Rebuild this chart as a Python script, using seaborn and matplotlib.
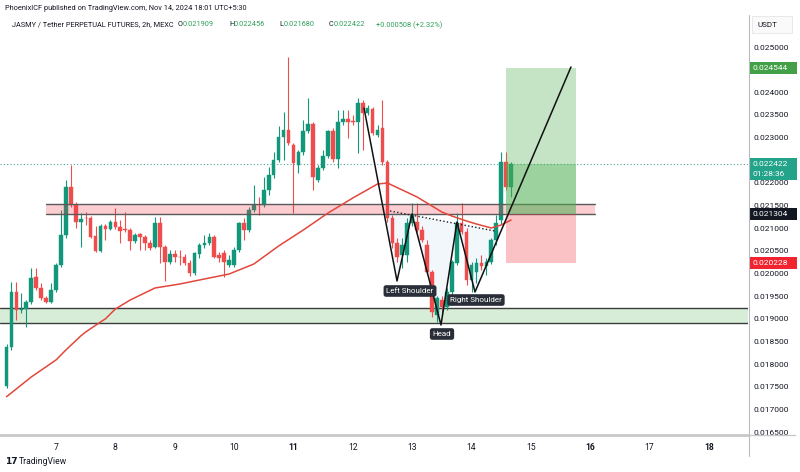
import numpy as np
import pandas as pd
import matplotlib
matplotlib.use("Agg")
import matplotlib.pyplot as plt
import matplotlib.transforms as mtransforms
from matplotlib.patches import Rectangle, Polygon
from matplotlib.lines import Line2D
import seaborn as sns

# ---------------- data ----------------
start_day = 6 + 4 / 24      # first 2h candle: day 6, 04:00
step = 2 / 24               # 2h bars

opens = [
    0.017517, 0.018378, 0.019592, 0.019195, 0.019217, 0.019371, 0.019923, 0.019680, 0.019459, 0.019371,
    0.019636, 0.020188, 0.020850, 0.021910, 0.021513, 0.021137, 0.021226, 0.021226, 0.020828, 0.020497,
    0.021049, 0.020983, 0.021137, 0.021027, 0.020983, 0.020961, 0.020718, 0.020872, 0.020806, 0.020673,
    0.020585, 0.021115, 0.020585, 0.020254, 0.020430, 0.020364, 0.020364, 0.020232, 0.020011, 0.020430,
    0.020629, 0.020673, 0.020806, 0.020408, 0.020452, 0.020188, 0.020188, 0.020519, 0.021115, 0.020961,
    0.021402, 0.021513, 0.021513, 0.021844, 0.022175, 0.022506, 0.023014, 0.023168, 0.022837, 0.022396,
    0.022683, 0.023146, 0.023301, 0.022064, 0.022330, 0.022594, 0.023146, 0.022528, 0.023345, 0.023411,
    0.023345, 0.023345, 0.023764, 0.023544, 0.023632, 0.023058, 0.023212, 0.022462, 0.021226, 0.020673,
    0.020408, 0.020408, 0.021115, 0.021137, 0.020961, 0.020629, 0.020033, 0.019084, 0.019415, 0.019261,
    0.019592, 0.020232, 0.021115, 0.020916, 0.019857, 0.020033, 0.020232, 0.020166, 0.020254, 0.020740,
    0.021182, 0.022462, 0.021909]
highs = [
    0.018444, 0.019813, 0.019813, 0.019570, 0.019415, 0.020122, 0.020122, 0.019790, 0.019503, 0.019790,
    0.020232, 0.021402, 0.022064, 0.022396, 0.021579, 0.021336, 0.021358, 0.021270, 0.021049, 0.021093,
    0.021093, 0.021182, 0.021446, 0.021182, 0.021358, 0.021005, 0.020894, 0.020894, 0.020850, 0.020740,
    0.021248, 0.021248, 0.020629, 0.020519, 0.020519, 0.020519, 0.020430, 0.020298, 0.020475, 0.020673,
    0.020850, 0.020894, 0.020850, 0.020475, 0.020519, 0.020408, 0.020585, 0.021137, 0.021226, 0.021468,
    0.021954, 0.021689, 0.022131, 0.022352, 0.022683, 0.023257, 0.023566, 0.024780, 0.022881, 0.022727,
    0.023389, 0.023875, 0.023345, 0.022396, 0.022727, 0.023168, 0.023212, 0.023610, 0.023610, 0.023610,
    0.023500, 0.023875, 0.023830, 0.023720, 0.023676, 0.023279, 0.023830, 0.022506, 0.021292, 0.020784,
    0.020784, 0.021226, 0.021557, 0.021557, 0.021049, 0.020740, 0.020078, 0.019503, 0.019503, 0.019680,
    0.020298, 0.021336, 0.021557, 0.021005, 0.020254, 0.020342, 0.020408, 0.020342, 0.020784, 0.021292,
    0.022683, 0.022683, 0.022456]
lows = [
    0.017472, 0.018312, 0.018974, 0.019128, 0.018820, 0.019327, 0.019636, 0.019415, 0.019349, 0.019349,
    0.019592, 0.020144, 0.020784, 0.021468, 0.021005, 0.020585, 0.021071, 0.020784, 0.020475, 0.020475,
    0.020740, 0.020961, 0.020983, 0.020673, 0.020916, 0.020519, 0.020673, 0.020519, 0.020519, 0.020519,
    0.020563, 0.020232, 0.019835, 0.020210, 0.020254, 0.020188, 0.020188, 0.019945, 0.019967, 0.020342,
    0.020563, 0.020629, 0.020342, 0.020254, 0.019923, 0.020144, 0.020144, 0.020475, 0.020740, 0.020916,
    0.021358, 0.021292, 0.021468, 0.021733, 0.022109, 0.022462, 0.022506, 0.022837, 0.021336, 0.022219,
    0.022616, 0.023102, 0.021844, 0.022020, 0.022285, 0.022550, 0.022462, 0.022330, 0.023279, 0.022992,
    0.023279, 0.022661, 0.022727, 0.023500, 0.023058, 0.023014, 0.022396, 0.021137, 0.020563, 0.020254,
    0.020122, 0.020254, 0.021049, 0.020916, 0.020695, 0.019989, 0.019040, 0.018930, 0.019084, 0.019195,
    0.019547, 0.020188, 0.020872, 0.019746, 0.019592, 0.019790, 0.020078, 0.019967, 0.020210, 0.020629,
    0.021093, 0.021844, 0.021680]
closes = [
    0.018378, 0.019592, 0.019195, 0.019217, 0.019371, 0.019901, 0.019680, 0.019459, 0.019371, 0.019636,
    0.020188, 0.020850, 0.021910, 0.021513, 0.021137, 0.021204, 0.021215, 0.020806, 0.020497, 0.021049,
    0.020983, 0.021137, 0.021027, 0.020938, 0.020961, 0.020718, 0.020850, 0.020806, 0.020673, 0.020563,
    0.021115, 0.020585, 0.020254, 0.020430, 0.020364, 0.020355, 0.020232, 0.020011, 0.020452, 0.020629,
    0.020673, 0.020806, 0.020364, 0.020342, 0.020254, 0.020298, 0.020519, 0.021115, 0.020961, 0.021402,
    0.021513, 0.021505, 0.021844, 0.022175, 0.022506, 0.023014, 0.023168, 0.022881, 0.022440, 0.022683,
    0.023146, 0.023301, 0.022131, 0.022330, 0.022594, 0.023146, 0.022528, 0.023345, 0.023411, 0.023345,
    0.023340, 0.023764, 0.023544, 0.023654, 0.023102, 0.023168, 0.022462, 0.021226, 0.020673, 0.020364,
    0.020629, 0.021115, 0.021292, 0.020961, 0.020740, 0.020033, 0.019151, 0.019459, 0.019261, 0.019592,
    0.020254, 0.021115, 0.020916, 0.019857, 0.020188, 0.020232, 0.020166, 0.020254, 0.020740, 0.021115,
    0.022462, 0.021910, 0.022422]

# moving average (red line), sampled at candle indices
ma_idx = [0, 5, 10, 12, 15, 16, 19, 20, 22, 25, 30, 35, 40, 45, 50, 55, 60, 65, 70, 75, 77, 80, 83, 85, 88, 90, 93, 95, 98, 100, 102]
ma_vals = [0.017280, 0.017716, 0.018091, 0.018312, 0.018621, 0.018709, 0.018930, 0.019000, 0.019217, 0.019415,
           0.019680, 0.019768, 0.019879, 0.019989, 0.020210, 0.020607, 0.020961, 0.021336, 0.021667, 0.021976,
           0.021998, 0.021844, 0.021689, 0.021557, 0.021358, 0.021270, 0.021159, 0.021093, 0.021005, 0.021071,
           0.021182]

# zones
resist_top, resist_bot = 0.021535, 0.021304
resist_t0, resist_t1 = 6.826, 16.080
support_top, support_bot = 0.019239, 0.018908

# long position tool
pos_t0, pos_t1 = 14.581, 15.755
target_p, entry_p, stop_p = 0.024544, 0.021304, 0.020228
last_close = 0.022422

# inverse head & shoulders drawing
hs_t = [12.189, 12.745, 12.997, 13.486, 13.755, 14.059, 15.676]
hs_p = [0.023654, 0.019835, 0.021314, 0.018864, 0.021137, 0.019592, 0.024560]
neck_t = [12.627, 14.396]
neck_p = [0.021380, 0.020938]
fill_t = [12.534, 12.745, 12.997, 13.486, 13.755, 14.059, 14.490]
fill_p = [0.021402, 0.019835, 0.021314, 0.018864, 0.021137, 0.019592, 0.020935]
labels = ["Left Shoulder", "Head", "Right Shoulder"]
label_t = [12.964, 13.503, 14.075]
label_p = [0.019614, 0.018665, 0.019415]

day_ticks = [7, 8, 9, 10, 11, 12, 13, 14, 15, 16, 17, 18]
bold_days = [11, 16, 18]
price_ticks = [0.0165 + 0.0005 * k for k in range(18)]
hidden_ticks = [0.0245, 0.0225]   # covered by the price boxes in the reference

# ---------------- drawing ----------------
sns.set_theme(style="white")
plt.rcParams["font.family"] = ["Roboto", "DejaVu Sans"]

UP = "#12977a"
DOWN = "#ef4d4d"
TXT = "#131722"

fig = plt.figure(figsize=(8, 4.72), dpi=100)
fig.patch.set_facecolor("white")
ax = fig.add_axes([0, 37 / 472, 748 / 800, 395 / 472])
ax.set_facecolor("white")

n = len(opens)
t = np.array([start_day + step * i for i in range(n)])
o = np.array(opens); h = np.array(highs); l = np.array(lows); c = np.array(closes)
df = pd.DataFrame({"t": t, "open": o, "high": h, "low": l, "close": c})
df["color"] = np.where(df["close"] >= df["open"], UP, DOWN)

xlim = (6.0566, 18.658)
ax.set_xlim(*xlim)
ax.set_ylim(0.016435, 0.025155)

# zones behind candles
ax.add_patch(Rectangle((xlim[0], support_bot), xlim[1] - xlim[0], support_top - support_bot,
                       facecolor="#4caf50", alpha=0.22, edgecolor="none", zorder=1))
for yy in (support_top, support_bot):
    ax.plot(xlim, [yy, yy], color="#3d3d3d", lw=1.0, zorder=1.5)

ax.add_patch(Polygon(np.column_stack([fill_t, fill_p]), closed=True,
                     facecolor="#e3eefa", alpha=0.45, edgecolor="none", zorder=1))

# current price dotted line
ax.plot(xlim, [last_close, last_close], color="#4fa59c", lw=0.8,
        linestyle=(0, (1, 2)), zorder=1.2)

# candles
ax.vlines(df["t"], df["low"], df["high"], colors=df["color"], lw=0.8, zorder=3)
body_bot = np.minimum(o, c)
body_h = np.maximum(np.abs(c - o), 0.000018)
ax.bar(df["t"], body_h, bottom=body_bot, width=0.062, color=df["color"],
       edgecolor=df["color"], linewidth=0.3, zorder=3.2)

# resistance zone (drawn over candles, translucent)
ax.add_patch(Rectangle((resist_t0, resist_bot), resist_t1 - resist_t0, resist_top - resist_bot,
                       facecolor="#f23645", alpha=0.25, edgecolor="none", zorder=4))
for yy in (resist_top, resist_bot):
    ax.plot([resist_t0, resist_t1], [yy, yy], color="#5a5a5a", lw=1.0, zorder=4.1)

# moving average
ma_df = pd.DataFrame({"t": [t[i] for i in ma_idx], "ma": ma_vals})
sns.lineplot(data=ma_df, x="t", y="ma", color="#e2473b", lw=1.1, sort=False,
             estimator=None, ax=ax, zorder=5)

# long position tool
ax.add_patch(Rectangle((pos_t0, entry_p), pos_t1 - pos_t0, target_p - entry_p,
                       facecolor="#4caf50", alpha=0.33, edgecolor="none", zorder=4.5))
ax.add_patch(Rectangle((pos_t0, entry_p), pos_t1 - pos_t0, last_close - entry_p,
                       facecolor="#4caf50", alpha=0.33, edgecolor="none", zorder=4.6))
ax.add_patch(Rectangle((pos_t0, stop_p), pos_t1 - pos_t0, entry_p - stop_p,
                       facecolor="#f23645", alpha=0.30, edgecolor="none", zorder=4.5))

# pattern lines
hs_df = pd.DataFrame({"t": hs_t, "p": hs_p})
sns.lineplot(data=hs_df, x="t", y="p", color="#111111", lw=1.1, sort=False,
             estimator=None, ax=ax, zorder=6)
ax.plot(neck_t, neck_p, color="#222222", lw=1.0, linestyle=(0, (1, 1.6)), zorder=6)

for txt, tx, py in zip(labels, label_t, label_p):
    ax.text(tx, py, txt, ha="center", va="center", fontsize=5.8, color="white", zorder=7,
            bbox=dict(boxstyle="round,pad=0.35,rounding_size=0.3", fc="#2a2e39", ec="none"))

# axes styling
ax.set_xlabel(""); ax.set_ylabel("")
ax.set_xticks(day_ticks)
ax.set_xticklabels([str(d) for d in day_ticks], fontsize=6.2, color=TXT)
for lbl, d in zip(ax.get_xticklabels(), day_ticks):
    if d in bold_days:
        lbl.set_fontweight("bold")
ax.tick_params(axis="x", length=0, pad=6)
ax.yaxis.tick_right()
ax.set_yticks(price_ticks)
ax.set_yticklabels(["" if any(abs(v - hv) < 1e-9 for hv in hidden_ticks) else f"{v:.6f}"
                    for v in price_ticks], fontsize=6.0, color=TXT)
ax.tick_params(axis="y", length=0, pad=3.8)
for s in ("top", "left", "right"):
    ax.spines[s].set_visible(False)
ax.spines["bottom"].set_color("#c8c8c8")
ax.spines["bottom"].set_linewidth(2.0)

# separator lines
fig.add_artist(Line2D([749 / 800, 749 / 800], [1 - 15 / 472, 1 - 456 / 472],
                      transform=fig.transFigure, color="#b8bbc3", lw=0.8))
fig.add_artist(Line2D([748 / 800, 795 / 800], [37 / 472, 37 / 472],
                      transform=fig.transFigure, color="#c8c8c8", lw=1.0))

# price label boxes on the axis
trans = mtransforms.blended_transform_factory(ax.transAxes, ax.transData)
pp = (ax.get_ylim()[1] - ax.get_ylim()[0]) / 395.0  # price per pixel
bx0, bx1 = 749.5 / 748, 797 / 748
def price_box(price, color, text, hpx=12, extra=None):
    top = price + hpx / 2 * pp
    if extra:
        bot = price - (hpx / 2 + 10) * pp
    else:
        bot = price - hpx / 2 * pp
    ax.add_patch(Rectangle((bx0, bot), bx1 - bx0, top - bot, transform=trans,
                           facecolor=color, edgecolor="none", clip_on=False, zorder=10))
    ax.text(753 / 748, price, text, transform=trans, fontsize=6.0, color="white",
            va="center", ha="left", clip_on=False, zorder=11)
    if extra:
        ax.text(753 / 748, price - 10 * pp, extra, transform=trans, fontsize=6.0,
                color="white", va="center", ha="left", clip_on=False, zorder=11)

price_box(target_p, "#43a047", f"{target_p:.6f}")
price_box(last_close, "#22a38a", f"{last_close:.6f}", extra="01:28:36")
price_box(entry_p, "#131722", f"{entry_p:.6f}")
price_box(stop_p, "#f0232f", f"{stop_p:.6f}")

# USDT box
fig.add_artist(Rectangle((752 / 800, 1 - 33 / 472), 40 / 800, 17 / 472, transform=fig.transFigure,
                         facecolor="#fafafa", edgecolor="#e6e6e6", lw=0.6))
fig.text(757 / 800, 1 - 25 / 472, "USDT", fontsize=5.8, color=TXT, va="center", ha="left")

# header
FS = 5.3
fig.text(5 / 800, 1 - 8 / 472, "PhoenixICF published on TradingView.com, Nov 14, 2024 18:01 UTC+5:30",
         fontsize=FS, color=TXT, va="center", ha="left")
HG = "#2e9e5b"
y2 = 1 - 25 / 472
fig.text(12 / 800, y2, "JASMY / Tether PERPETUAL FUTURES, 2h, MEXC", fontsize=FS, color=TXT, va="center")
for xpx, key, val in [(178, "O", "0.021909"), (229, "H", "0.022456"), (279, "L", "0.021680"), (329, "C", "0.022422")]:
    fig.text(xpx / 800, y2, key, fontsize=FS, color=TXT, va="center")
    fig.text((xpx + 4.5) / 800, y2, val, fontsize=FS, color=HG, va="center")
fig.text(376 / 800, y2, "+0.000508 (+2.32%)", fontsize=FS, color=HG, va="center")

# footer
fig.text(5 / 800, 1 - 462 / 472, "17", fontsize=6.5, fontweight="bold", color=TXT, va="center",
         family="DejaVu Sans")
fig.text(19 / 800, 1 - 462 / 472, "TradingView", fontsize=6.2, color=TXT, va="center")

fig.savefig("out.png", dpi=100)
